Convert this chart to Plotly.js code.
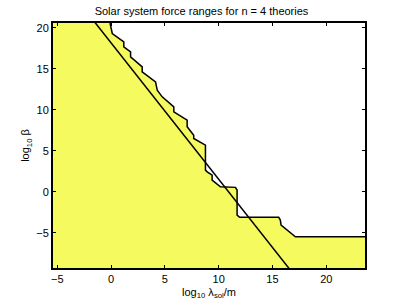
<!DOCTYPE html>
<html><head><meta charset="utf-8">
<script src="https://cdn.plot.ly/plotly-3.0.1.min.js"></script>
<style>body{margin:0;background:#fff}#c{width:403px;height:304px}</style>
</head><body><div id="c"></div>
<script>
// Boundary of the allowed region (log10 lambda, log10 beta)
const boundX = [-0.1, 0.11, 1.18, 1.18, 1.81, 1.81, 2.89, 2.89, 4.13, 4.29, 4.75, 5.83, 5.83, 7.07, 7.07, 7.68, 7.68, 8.77, 8.77, 8.93, 9.39, 9.39, 10.16, 11.56, 11.71, 11.71, 11.95, 15.58, 15.73, 15.80, 17.13, 23.6];
const boundY = [20.6, 19.32, 18.29, 17.68, 17.07, 16.46, 15.24, 14.63, 13.41, 12.40, 11.59, 10.37, 9.76, 8.74, 7.93, 6.91, 6.51, 5.70, 2.65, 2.44, 2.04, 1.43, 0.61, 0.54, 0.21, -2.84, -3.12, -3.12, -3.45, -4.06, -5.49, -5.49];
// Theory line
const lineX = [-2, 17.5];
const lineY = [21.5, -10.95];
const xRange = [-5.4, 23.6];
const yRange = [-9.3, 20.6];
const xTicks = [-5, 0, 5, 10, 15, 20];
const yTicks = [-5, 0, 5, 10, 15, 20];

const polyX = [xRange[0], xRange[0]].concat(boundX, [xRange[1], xRange[0]]);
const polyY = [yRange[0], yRange[1]].concat(boundY, [yRange[0], yRange[0]]);

const traces = [
  {x: polyX, y: polyY, type: 'scatter', mode: 'lines', fill: 'toself',
   fillcolor: 'rgb(245,250,95)', line: {color: 'rgba(0,0,0,0)', width: 0}, hoverinfo: 'skip'},
  {x: boundX, y: boundY, type: 'scatter', mode: 'lines', line: {color: '#000', width: 1.5}},
  {x: lineX, y: lineY, type: 'scatter', mode: 'lines', line: {color: '#000', width: 1.5}}
];
const axCommon = {showgrid: false, zeroline: false, showline: true, mirror: 'ticks',
  linecolor: '#000', linewidth: 2, ticks: 'inside', ticklen: 3, tickwidth: 1, tickcolor: '#000',
  tickfont: {family: 'Liberation Sans, Arial, sans-serif', size: 11, color: '#000'}};
const layout = {
  width: 403, height: 304, showlegend: false,
  margin: {l: 53, r: 38, t: 23, b: 36},
  paper_bgcolor: '#fff', plot_bgcolor: '#fff',
  font: {family: 'Liberation Sans, Arial, sans-serif', size: 11, color: '#000'},
  title: {text: 'Solar system force ranges for n = 4 theories', font: {size: 11, color: '#000'},
    x: 0.5, xanchor: 'center', y: 0.975, yanchor: 'top'},
  xaxis: Object.assign({}, axCommon, {range: xRange, tickvals: xTicks, ticktext: xTicks.map(v => v < 0 ? '\u2212' + (-v) : '' + v),
    title: {text: 'log<sub>10</sub> λ<sub>sol</sub>/m', font: {size: 11}, standoff: 4}}),
  yaxis: Object.assign({}, axCommon, {range: yRange, tickvals: yTicks, ticktext: yTicks.map(v => v < 0 ? '\u2212' + (-v) : '' + v),
    title: {text: 'log<sub>10</sub> β', font: {size: 11}, standoff: 4}})
};
Plotly.newPlot('c', traces, layout, {staticPlot: true, displayModeBar: false});
</script></body></html>
